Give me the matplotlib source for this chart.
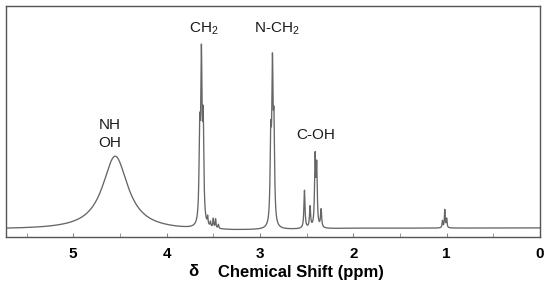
import numpy as np
import matplotlib
matplotlib.use("Agg")
import matplotlib.pyplot as plt

plt.rcParams["font.family"] = ["Liberation Sans", "DejaVu Sans"]
plt.rcParams["mathtext.fontset"] = "custom"
plt.rcParams["mathtext.rm"] = "Liberation Sans"

# peak table: position (ppm), height (a.u.), half width (ppm)
peak_ppm = [4.55,
            3.645, 3.627, 3.608,
            3.56, 3.53, 3.50, 3.475, 3.445,
            2.884, 2.866, 2.850,
            2.523, 2.463, 2.409, 2.392, 2.345,
            1.045, 1.020, 1.000]
peak_height = [74,
               85, 156, 95,
               8, 5, 9, 9, 4,
               80, 146, 88,
               38, 21, 68, 58, 18,
               7, 18, 9]
peak_hwhm = [0.165,
             0.008, 0.008, 0.008,
             0.005, 0.005, 0.005, 0.005, 0.005,
             0.008, 0.008, 0.008,
             0.007, 0.007, 0.007, 0.007, 0.007,
             0.005, 0.005, 0.005]
baseline_ppm = [5.72, 3.3, 2.7, 2.0, 0.0]
baseline_lvl = [0.5, -1.0, 0.0, 1.5, 2.0]

labels = ["NH\nOH", "CH$_2$", "N-CH$_2$", "C-OH"]
label_ppm = [4.61, 3.60, 2.82, 2.40]
label_y = [96, 201, 201, 95]

ticks = [5, 4, 3, 2, 1, 0]

x = np.linspace(5.72, 0, 6000)
y = np.interp(x, baseline_ppm[::-1], baseline_lvl[::-1])
for p, h, w in zip(peak_ppm, peak_height, peak_hwhm):
    y = y + h / (1 + ((x - p) / w) ** 2)

fig = plt.figure(figsize=(5.5, 2.88), dpi=100)
ax = fig.add_axes([6 / 550, 51 / 288, 534 / 550, 231 / 288])
ax.plot(x, y, color="#666666", lw=0.95)
ax.set_xlim(5.72, 0)
ax.set_ylim(-7, 224)

for s in ax.spines.values():
    s.set_color("#555555")
    s.set_linewidth(1.0)
ax.set_yticks([])
ax.set_xticks(ticks)
ax.set_xticks(np.arange(0.5, 5.6, 1.0), minor=True)
ax.tick_params(axis="x", which="both", direction="in", length=3, color="#888888", pad=7)
ax.set_xticklabels([str(t) for t in ticks], fontsize=11, fontweight="bold")

for t, px, py in zip(labels, label_ppm, label_y):
    ax.text(px, py, t, ha="center", va="center", fontsize=11, linespacing=1.35,
            color="#1a1a1a")

fig.text(193 / 550, 16 / 288, "δ", ha="center", va="center", fontsize=12, fontweight="bold")
fig.text(218 / 550, 16 / 288, "Chemical Shift (ppm)", ha="left", va="center",
         fontsize=12, fontweight="bold")

fig.savefig("out.png", dpi=100)
